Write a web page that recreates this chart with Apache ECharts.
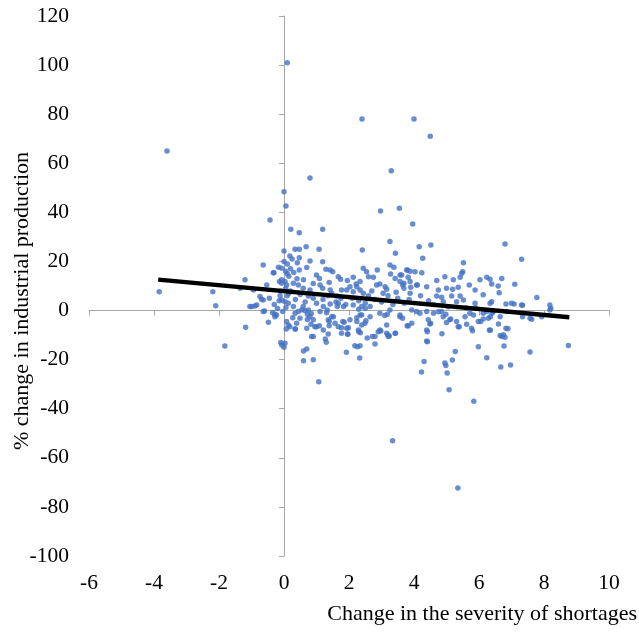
<!DOCTYPE html>
<html>
<head>
<meta charset="utf-8">
<script src="https://cdn.jsdelivr.net/npm/echarts@6/dist/echarts.min.js"></script>
<style>
  html, body { margin: 0; padding: 0; background: #fff; }
  #chart { width: 639px; height: 634px; }
</style>
</head>
<body>
<div id="chart"></div>
<script>
// [change in shortage severity, % change in industrial production]
const pointsNegative = [
  [-3.84, 7.7], [-3.6, 65], [-2.19, 7.7], [-2.1, 2], [-1.82, -14.4], [-1.2, 12.5],
  [-1.18, -6.8], [-1.35, 9.1], [-1.05, 1.6], [-0.99, 1.6], [-0.89, 1.9], [-0.84, 2.3],
  [-0.74, 5.7], [-0.69, 4.6], [-0.94, 8.4], [-0.64, 4.3], [-0.64, 18.6], [-0.43, 36.9],
  [-0.53, 10.4], [-0.64, -0.4], [-0.45, 5], [-0.48, -4.8], [-0.35, -0.9], [-0.23, -1.8],
  [-0.28, -2.5], [-0.31, 15.4], [-0.17, 17.6], [-0.07, 17.2], [-0.14, 11.8], [-0.07, 11.1],
  [-0.33, 15.4], [-0.07, 12.5], [-0.1, 8], [-0.12, 6], [-0.15, 4], [-0.07, 4.3],
  [-0.07, -14], [-0.1, -13], [-0.04, -0.4], [-0.28, -1.5], [-0.6, -0.2], [-0.3, 2.5],
  [-0.2, 0.8]
];
const points0to2 = [
  [0.1, 101], [0.8, 54], [0.0, 48.4], [0.06, 42.6], [0.21, 33.1], [0.47, 31.7],
  [1.19, 33.1], [0.0, 24.3], [0.34, 25], [0.47, 25], [0.68, 26], [1.08, 25],
  [0.18, 22.2], [0.47, 21.5], [0.41, 19.5], [0.8, 20.2], [1.19, 19.9], [0.05, 16],
  [0.1, 15], [0.2, 17], [0.3, 15.5], [0.15, 14], [0.47, 16.5], [1.29, 16.8],
  [1.42, 16.5], [1.5, 15.8], [1.09, 13.1], [1.39, 11.4], [1.67, 13.8], [1.74, 12.7],
  [1.95, 12.2], [0.03, 11.8], [0.08, 10.4], [0.29, 11.1], [0.44, 10.4], [0.59, 9.1],
  [0.8, 8.4], [0.75, 5.9], [1.11, 10.4], [1.19, 9.1], [1.42, 8.4], [1.47, 7],
  [1.62, 5.9], [1.77, 8.4], [1.93, 8.4], [0.0, 20], [0.1, 19], [0.25, 21],
  [0.05, 9], [0.15, 7], [0.4, 13], [0.6, 12.5], [0.9, 11], [1.0, 14.5], [0.7, 17.5],
  [0.1, 6], [0.2, 8], [0.35, 4.5], [0.5, 6.5], [0.65, 3.5], [0.9, 5], [1.0, 3],
  [1.2, 4.5], [1.35, 6], [1.6, 3.5], [1.75, 5], [1.9, 2.5],
  [0.03, 3.6], [0.13, 3], [0.29, 1.6], [0.34, -1.1], [0.44, -0.4], [0.59, 1.6],
  [0.75, 0.2], [0.8, -2.5], [0.9, -3.8], [1.0, -6.6], [0.85, -10.6], [0.7, -7.2],
  [0.49, -3.1], [0.39, -5.2], [0.18, -6.6], [0.08, -4.5], [0.03, -13.3], [1.21, -7.9],
  [1.36, -3.8], [1.52, -2.5], [1.67, -6.6], [1.77, -9.2], [1.93, -7.2], [1.83, 1.6],
  [1.67, 3], [1.42, 2.7], [1.21, 1.6], [1.11, -0.4], [1.31, -0.9], [0.06, 1.2],
  [0.13, -5.9], [0.27, -2.9], [0.34, -7.5], [0.55, 0.3], [0.65, -0.1], [0.72, -1.5],
  [0.83, -5.6], [0.95, -6.6], [1.09, -6.2], [0.84, -1.2], [0.72, -3.6], [1.39, -4.5],
  [1.39, -6.2], [1.57, -5.2], [1.47, -2.5], [1.33, 0.2], [1.64, 1.6], [1.77, -7],
  [1.85, -4.8], [1.81, -4.5], [1.98, -7], [1.96, -9.7],
  [0.0, -15], [0.6, -16.5], [0.7, -15.7], [0.6, -20.5], [0.9, -20], [0.9, -10.6],
  [1.07, -29], [1.27, -11.6], [1.3, -12.9], [1.36, -9.6], [1.92, -17], [1.96, -9.6],
  [0.07, -7.5], [0.35, -7.5]
];
const points2to4 = [
  [2.4, 78], [2.97, 40.6], [3.55, 41.7], [3.3, 57], [3.26, 28.1], [3.43, 23.3],
  [2.41, 24.7], [2.44, 17.2], [2.54, 15.8], [2.6, 13.8], [2.75, 13.6], [2.87, 16.5],
  [2.95, 10.8], [2.85, 10.4], [3.11, 9.7], [3.16, 8.7], [3.26, 18.6], [3.38, 17.6],
  [3.28, 14.9], [3.42, 13.1], [3.57, 14.5], [3.69, 11.1], [3.78, 16.5], [3.82, 13.6],
  [2.13, 13.6], [2.03, 9.7], [2.22, 10.8], [2.34, 11.8], [2.13, 7.7], [2.24, 9.7],
  [2.34, 8.4], [2.44, 7], [3.62, 14.5], [3.57, 11.8], [3.65, 10.4], [3.69, 9.1],
  [3.88, 11.8], [3.9, 9.5], [3.88, 7], [3.79, 16.5], [3.96, 35.3], [3.88, 16],
  [2.1, 5], [2.3, 4], [2.5, 3], [2.6, 6], [2.8, 4.5], [3.0, 3.5], [3.2, 6],
  [3.35, 2.5], [3.5, 5], [3.7, 3], [2.7, 8], [3.05, 7], [3.45, 7.5], [3.85, 4.5],
  [2.03, -3.8], [2.24, -4.5], [2.39, -1.8], [2.49, -5.2], [2.65, -2.5], [2.8, -10.6],
  [2.9, -8.6], [3.16, -9.2], [3.42, -9.2], [3.16, -5.9], [2.95, -1.1], [2.65, 1.6],
  [2.39, 1.6], [2.13, 2.3], [2.24, -2.9], [2.34, -1.8], [2.29, -7.9], [2.39, -5.9],
  [2.52, -4.2], [2.3, 0.5], [2.5, 0.8], [2.95, -7.9], [3.21, -10.6], [3.1, -2],
  [3.18, -1.5], [3.26, 0.2], [3.57, -1.8], [3.65, -3.1], [3.79, -6.2], [3.57, -2.5],
  [3.82, -6.3], [3.93, -5.2], [3.93, 0.2],
  [2.18, -14.3], [2.26, -14.7], [2.34, -14.3], [2.33, -19.3], [2.3, -8.6], [2.35, -9],
  [2.56, -11.2], [2.72, -10.6], [2.8, -13.6], [2.98, -8.3], [3.2, -10], [3.24, -10.4],
  [3.43, -9.2], [3.34, -53]
];
const points4to6 = [
  [4.0, 78], [4.5, 71], [4.16, 26], [4.52, 26.7], [4.27, 21.3], [5.52, 19.5],
  [4.03, 15.8], [4.24, 15.4], [4.1, 10.4], [4.39, 9.7], [4.7, 12.2], [4.75, 8.4],
  [4.95, 13.8], [5.0, 9.1], [5.21, 12.5], [5.19, 8.7], [5.36, 9.5], [5.42, 13.6],
  [5.47, 15.2], [5.5, 15.8], [4.7, 5.9], [4.85, 5.4], [4.9, 3.6], [5.16, 5.9],
  [5.42, 5.9], [5.52, 4.3], [5.31, 3.6], [5.7, 10.4], [5.88, 8.4], [5.88, 3],
  [4.08, 10.4], [4.2, 6], [4.45, 4], [4.6, 2.5], [5.05, 1.5], [5.6, 1],
  [4.18, -1.1], [4.39, -0.4], [4.44, -3.8], [4.49, -5.5], [4.6, -1.1], [4.85, -0.4],
  [4.9, -2.5], [5.1, -3.8], [5.0, -4.9], [5.31, -4.5], [5.36, -6.6], [5.57, -2.5],
  [5.72, -1.1], [5.77, -7.2], [5.83, -1.8], [5.98, -4.5], [4.08, -0.4], [4.39, -7.9],
  [4.39, -12.4], [4.51, -5.2], [4.75, -0.5], [4.98, -1.5], [5.13, -3.4], [5.39, -6.6],
  [5.62, -5.6], [5.9, 1],
  [4.23, -25], [4.31, -20.8], [4.41, -12.7], [4.41, -8.6], [4.86, -9.5], [4.95, -21.4],
  [4.98, -22.4], [5.02, -25.4], [5.08, -32.3], [5.18, -20.1], [5.27, -16.7], [5.35, -72.3],
  [5.8, -8.2], [5.84, -37], [5.98, -14.8]
];
const points6plus = [
  [6.8, 27.1], [7.31, 20.9], [6.03, 12.5], [6.13, 6.4], [6.24, 13.6], [6.34, 12.7],
  [6.39, 10.8], [6.34, 3], [6.39, 3.6], [6.59, 10], [6.7, 13.1], [6.62, 7.3],
  [6.83, 2.7], [7.1, 10.7], [7.08, 2.7], [7.31, 2.3], [7.78, 5.3], [8.18, 2.3],
  [8.21, 0.9], [8.18, 0.2], [7.93, -2.5], [7.34, -2.5], [7.62, -3.5], [7.34, 2.2],
  [7.0, 3], [6.13, -1.1], [6.24, -0.4], [6.35, -2.5], [6.4, -1.1], [6.44, -0.4],
  [6.6, -5.5], [6.65, -2.5], [6.83, -7.2], [6.85, -0.4], [7.57, -3.1], [6.13, -3.4],
  [6.29, -3.1], [6.32, -7.9], [6.05, -4.5],
  [6.24, -19.2], [6.35, -8], [6.65, -10.2], [6.7, -10.6], [6.8, -10.9], [6.77, -14.4],
  [6.67, -23], [6.97, -22.2], [6.89, -7.4], [7.57, -16.9], [8.75, -14.2], [6.75, -9.9]
];
// fitted trend line end points
const trendX = [-3.87, 8.78];
const trendY = [12.6, -2.7];

const xTicks = { min: -6, max: 10, interval: 2 };
const yTicks = { min: -100, max: 120, interval: 20 };

const serif = "'Liberation Serif', 'Times New Roman', serif";
const axisGray = '#A6A6A6';

const allPoints = [].concat(pointsNegative, points0to2, points2to4, points4to6, points6plus);
const trendData = trendX.map((x, i) => [x, trendY[i]]);

const chart = echarts.init(document.getElementById('chart'));
chart.setOption({
  animation: false,
  grid: { left: 89, right: 30, top: 16, bottom: 78, containLabel: false },
  xAxis: [
    {
      type: 'value', position: 'bottom', ...xTicks,
      axisLine: { show: false, onZero: false },
      axisTick: { show: false },
      splitLine: { show: false },
      axisLabel: { fontFamily: serif, fontSize: 21.5, color: '#000', margin: 16 }
    },
    {
      type: 'value', position: 'bottom', ...xTicks,
      axisLine: { show: true, onZero: true, onZeroAxisIndex: 1, lineStyle: { color: axisGray, width: 1 } },
      axisTick: { show: true, length: 5, lineStyle: { color: axisGray } },
      splitLine: { show: false },
      axisLabel: { show: false }
    }
  ],
  yAxis: [
    {
      type: 'value', position: 'left', ...yTicks,
      axisLine: { show: false, onZero: false },
      axisTick: { show: false },
      splitLine: { show: false },
      axisLabel: { fontFamily: serif, fontSize: 21.5, color: '#000', margin: 20 }
    },
    {
      type: 'value', position: 'left', ...yTicks,
      axisLine: { show: true, onZero: true, onZeroAxisIndex: 1, lineStyle: { color: axisGray, width: 1 } },
      axisTick: { show: true, length: 5, lineStyle: { color: axisGray } },
      splitLine: { show: false },
      axisLabel: { show: false }
    }
  ],
  graphic: [
    {
      type: 'text', x: 637, y: 614,
      style: {
        text: 'Change in the severity of shortages', fill: '#000',
        font: '22px ' + serif, textAlign: 'right', textVerticalAlign: 'middle'
      }
    },
    {
      type: 'text', x: 22, y: 301, rotation: Math.PI / 2,
      style: {
        text: '% change in industrial production', fill: '#000',
        font: '22px ' + serif, textAlign: 'center', textVerticalAlign: 'middle'
      }
    }
  ],
  series: [
    {
      type: 'scatter', xAxisIndex: 0, yAxisIndex: 0,
      data: allPoints, symbolSize: 5.5,
      itemStyle: { color: '#4472C4' }
    },
    {
      type: 'line', xAxisIndex: 0, yAxisIndex: 0,
      data: trendData, symbol: 'none', z: 3,
      lineStyle: { color: '#000', width: 4.5 }
    }
  ]
});
</script>
</body>
</html>
